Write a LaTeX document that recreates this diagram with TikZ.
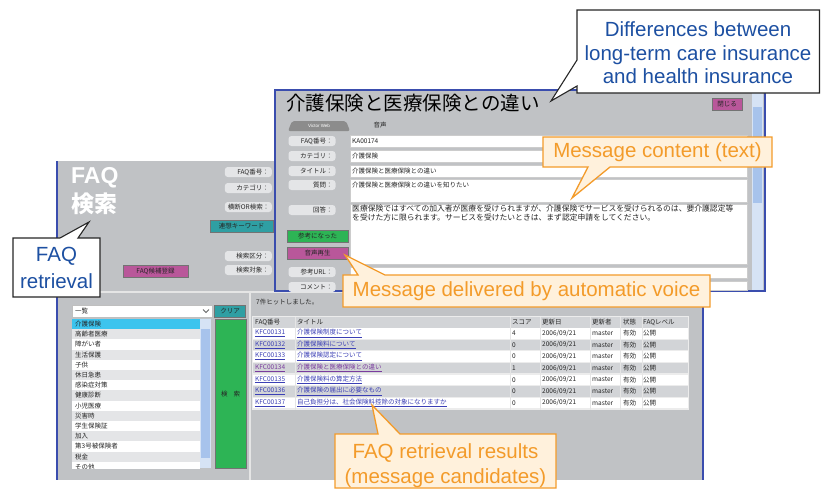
\documentclass[tikz,border=0pt]{standalone}
\usepackage{fontspec}
\setmainfont{Liberation Sans}
\newfontfamily\jp{Noto Sans CJK JP}
\usetikzlibrary{calc}
\definecolor{wingray}{HTML}{C0C2C5}
\definecolor{winblue}{HTML}{3A4DAE}
\definecolor{pillgray}{HTML}{E4E5E7}
\definecolor{rowgray}{HTML}{D2D4D7}
\definecolor{noteblue}{HTML}{1D50A2}
\definecolor{noteorange}{HTML}{F39B2A}
\definecolor{peach}{HTML}{FFF1DC}
\definecolor{btnpink}{HTML}{B9579A}
\definecolor{btnteal}{HTML}{2F9FA3}
\definecolor{btngreen}{HTML}{2DB455}
\definecolor{selcyan}{HTML}{3CC4EE}
\definecolor{linkblue}{HTML}{3B3FB5}
\definecolor{visited}{HTML}{7A3C9E}
\definecolor{scrollbg}{HTML}{D6E3F5}
\definecolor{thumb}{HTML}{A7C3EC}

\begin{document}
\begin{tikzpicture}[x=1pt,y=-1pt]
\tikzset{
  ui/.style={font=\jp\fontsize{6.5}{7.5}\selectfont,text=black!85,inner sep=0pt},
  pill/.style={ui,fill=pillgray,rounded corners=3pt,text width=41pt,align=right,inner xsep=3pt,minimum height=10pt},
  btn/.style={ui,draw=black!55,minimum height=12pt},
  bubble/.style={fill=white,draw=black!85,line width=1.1pt},
  hint/.style={fill=peach,draw=noteorange,line width=1.3pt},
  bluetext/.style={text=noteblue,font=\fontsize{20.5}{23.5}\selectfont,align=center},
  hinttext/.style={text=noteorange,font=\fontsize{20.5}{25}\selectfont,align=center}
}
\useasboundingbox (0,0) rectangle (821,488);

% FAQ retrieval window (back)
\fill[wingray] (57,161) rectangle (703,480);
\draw[winblue,line width=1.5pt] (57,161) -- (57,480);
\draw[winblue,line width=1.5pt] (703,292) -- (703,480);
\draw[white!80!gray,line width=1.2pt] (57,292) -- (703,292);
\draw[white!80!gray,line width=1.2pt] (250,292) -- (250,480);
\node[anchor=west,inner sep=0pt,text=white,font=\bfseries\fontsize{23}{23}\selectfont] (faqhead) at (71,178) {FAQ};
\node[anchor=west,inner sep=0pt,text=white,font=\jp\bfseries\fontsize{23}{23}\selectfont] (searchhead) at (71,204) {検索};
\foreach \y/\lbl [count=\i] in {172/FAQ番号：,188/カテゴリ：,207/横断OR検索：,256/検索区分：,270/検索対象：}
  \node[pill,anchor=east] (flab\i) at (272,\y) {\lbl};
\node[btn,fill=btnteal,minimum width=63pt] (assoc) at (241.5,226) {連想キーワード};
\node[btn,fill=btnpink,minimum width=65pt] (cand) at (155.5,271) {FAQ候補登録};

% category list
\draw[fill=white,draw=black!25] (72,305) rectangle (212,317);
\node[ui,anchor=west] (combo) at (75,311) {一覧};
\draw[black!60,line width=0.8pt] (203,309.5) -- (206,312.5) -- (209,309.5);
\node[btn,fill=btnteal,minimum width=31pt] (clear) at (230,311) {クリア};
\begin{scope}
\clip (72,319) rectangle (211,468);
\fill[white] (72,319) rectangle (211,468);
\foreach \t [count=\i] in {介護保険,高齢者医療,障がい者,生活保護,子供,休日急患,感染症対策,健康診断,小児医療,災害時,学生保険証,加入,第3号被保険者,税金,その他} {
  \pgfmathsetmacro\yy{319+(\i-1)*10.2}
  \ifodd\i\def\rowc{white}\else\def\rowc{rowgray!60}\fi
  \ifnum\i=1 \def\rowc{selcyan}\fi
  \fill[\rowc] (72,\yy) rectangle (200,\yy+10.2);
  \node[ui,anchor=west] (cat\i) at (75,\yy+5.1) {\t};
}
\end{scope}
\fill[scrollbg] (200,319) rectangle (211,468);
\fill[thumb] (201,329) rectangle (210,458);
\node[btn,fill=btngreen,minimum width=31pt,minimum height=149pt,anchor=north west] (search) at (215,319) {検\hspace{6pt}索};

% result table
\node[ui,anchor=west] (hits) at (256,302) {7件ヒットしました。};
\fill[white!85!gray] (252,316) rectangle (689,409.7);
\fill[rowgray] (253,317) rectangle (688,327.5);
\foreach \x/\h [count=\i] in {255/FAQ番号,297/タイトル,512/スコア,542/更新日,592/更新者,623/状態,643/FAQレベル}
  \node[ui,anchor=west] (th\i) at (\x,322.3) {\h};
\foreach \id/\ttl/\sc [count=\i] in {131/介護保険制度について/4,132/介護保険料について/0,133/介護保険認定について/0,134/介護保険と医療保険との違い/1,135/介護保険料の算定方法/0,136/介護保険の届出に必要なもの/0,137/自己負担分は、社会保険料控除の対象になりますか/0} {
  \pgfmathsetmacro\yt{327.5+(\i-1)*11.6}
  \ifodd\i\def\rowc{white}\else\def\rowc{rowgray}\fi
  \ifnum\i=4 \def\lnk{visited}\else\def\lnk{linkblue}\fi
  \fill[\rowc] (253,\yt+0.6) rectangle (688,\yt+11);
  \node[ui,anchor=west,text=\lnk] (fid\i) at (255,\yt+5.8) {\underline{KFC00\id}};
  \node[ui,anchor=west,text=\lnk] (ftl\i) at (297,\yt+5.8) {\underline{\ttl}};
  \node[ui,anchor=west] (fsc\i) at (512,\yt+5.8) {\sc};
  \node[ui,anchor=west] (fdt\i) at (542,\yt+5.8) {2006/09/21};
  \node[ui,anchor=west] (fby\i) at (592,\yt+5.8) {master};
  \node[ui,anchor=west] (fst\i) at (623,\yt+5.8) {有効};
  \node[ui,anchor=west] (flv\i) at (643,\yt+5.8) {公開};
}
\foreach \x in {295,510,540,590,620,642}
  \draw[white!80!gray,line width=1pt] (\x,317) -- (\x,409.7);

% FAQ detail window (front)
\draw[fill=wingray,draw=winblue,line width=1.5pt] (275,90) rectangle (765,291);
\node[anchor=west,inner sep=0pt,font=\jp\fontsize{19.5}{20}\selectfont] (title) at (286,103) {介護保険と医療保険との違い};
\node[btn,fill=btnpink,minimum width=30pt] (close) at (727,104) {閉じる};
\fill[scrollbg] (752,93) rectangle (763,290);
\fill[thumb] (753,107) rectangle (762,203);
\fill[black!45,rounded corners=2pt] (288,131) -- (292,121) -- (346,121) -- (350,131) -- cycle;
\node[inner sep=0pt,text=white,font=\fontsize{4.5}{5}\selectfont] (tabweb) at (319,126) {Victor Web};
\node[ui] (tabvoice) at (380,125) {音声};
\foreach \lbl/\yc/\ya/\yb [count=\i] in {FAQ番号：/141/135/147,カテゴリ：/156/150/162,タイトル：/171/165/177,質問：/185/179/202,回答：/210/204/264,参考URL：/272/267/278,コメント：/287/281/290} {
  \draw[fill=white,draw=black!20] (350,\ya) rectangle (747,\yb);
  \node[pill] (qlab\i) at (312,\yc) {\lbl};
}
\node[ui,anchor=west] (qid) at (352,141) {KA00174};
\node[ui,anchor=west] (qcat) at (352,156) {介護保険};
\node[ui,anchor=west] (qttl) at (352,171) {介護保険と医療保険との違い};
\node[ui,anchor=west] (qtext) at (352,185) {介護保険と医療保険との違いを知りたい};
\node[ui,anchor=north west,align=left,font=\jp\fontsize{7.8}{9}\selectfont] (atext) at (352,205)
  {医療保険ではすべての加入者が医療を受けられますが、介護保険でサービスを受けられるのは、要介護認定等\\を受けた方に限られます。サービスを受けたいときは、まず認定申請をしてください。};
\node[btn,fill=btngreen,minimum width=61pt] (useful) at (317.5,236) {参考になった};
\node[btn,fill=btnpink,minimum width=61pt] (voice) at (317.5,253) {音声再生};

% callouts
\coordinate (diffTip) at (551,101);
\filldraw[bubble] (577,10) -| (819.5,93) -| (577,86) -- (diffTip) -- (577,60) -- cycle;
\node[bluetext] (diff) at (698,53) {Differences between\\long-term care insurance\\and health insurance};

\coordinate (faqTip) at (89,222);
\filldraw[bubble] (13,238) -- (60,238) -- (faqTip) -- (78,238) -| (100,297) -| cycle;
\node[bluetext,font=\fontsize{20.5}{27}\selectfont] (faq) at (56.5,268) {FAQ\\retrieval};

\coordinate (textTip) at (572,198);
\filldraw[hint] (543,137) -| (772,167) -- (610,167) -- (textTip) -- (588,167) -| cycle;
\node[hinttext] (msgtext) at (657.5,152.5) {Message content (text)};

\coordinate (voiceTip) at (345,255);
\filldraw[hint] (343,275) -- (358,275) -- (voiceTip) -- (385,275) -| (710,307) -| cycle;
\node[hinttext] (msgvoice) at (526.5,291.5) {Message delivered by automatic voice};

\coordinate (hitTip) at (372,405);
\filldraw[hint] (335,434) -- (378,434) -- (hitTip) -- (400,434) -| (556,488) -| cycle;
\node[hinttext] (results) at (445.5,465.5) {FAQ retrieval results\\(message candidates)};
\end{tikzpicture}
\end{document}
